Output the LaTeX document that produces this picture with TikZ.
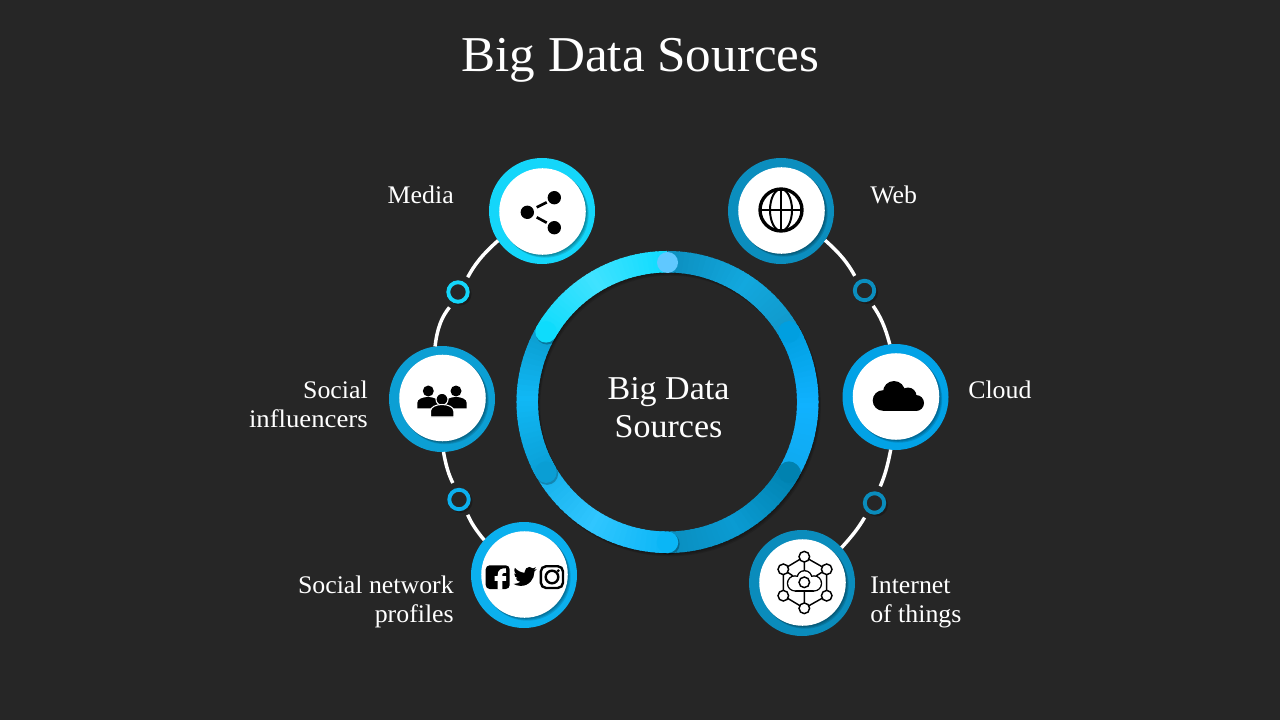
\documentclass[tikz,border=0pt]{standalone}
\usepackage{fontspec}
\setmainfont[FakeStretch=1.02]{Liberation Serif}
\newfontfamily\widerm[FakeStretch=1.055]{Liberation Serif}
\definecolor{bg}{HTML}{262626}
\definecolor{cMedia}{HTML}{14D6FA}
\definecolor{cWeb}{HTML}{0B8EBE}
\definecolor{cCloud}{HTML}{02A2E6}
\definecolor{cInfl}{HTML}{0C9FD4}
\definecolor{cNet}{HTML}{0BB0EE}
\definecolor{cIot}{HTML}{0A8CBC}
\definecolor{aA}{HTML}{0FDCFF}\definecolor{aB}{HTML}{40E2FF}\definecolor{aC}{HTML}{0EDCFC}
\definecolor{bA}{HTML}{0A98C8}\definecolor{bB}{HTML}{10B8F5}\definecolor{bC}{HTML}{0A9ED4}
\definecolor{dA}{HTML}{12AEE8}\definecolor{dB}{HTML}{30C6FF}\definecolor{dC}{HTML}{0AB6F6}
\definecolor{eA}{HTML}{0A8CBC}\definecolor{eB}{HTML}{0A9BD2}\definecolor{eC}{HTML}{0082B0}
\definecolor{fA}{HTML}{0FA8EC}\definecolor{fB}{HTML}{10B2FF}\definecolor{fC}{HTML}{009FE0}
\definecolor{gA}{HTML}{0C8FBF}\definecolor{gB}{HTML}{12A8DE}\definecolor{gC}{HTML}{1095C6}
\definecolor{dotc}{HTML}{60C8FF}
\tikzset{
  hub/.style={circle,minimum size=79.5pt,inner sep=0pt,outer sep=0pt},
  disc/.style={circle,fill=white,minimum size=64.9pt,inner sep=0pt,outer sep=0pt},
  knot/.style={circle,minimum size=14.6pt,inner sep=0pt,fill=bg,line width=2.9pt},
  wire/.style={white,line width=2.6pt},
  lab/.style={text=white,font=\fontsize{19}{21.75}\selectfont,inner sep=0pt},
  iotl/.style={black,line width=1.1pt},
  iotn/.style={draw=black,fill=white,line width=1.1pt},
}
\newcommand\ringarc[6]{%
  \ifnum#6=1
    \fill[black,opacity=.25] ({668.5+140.3*cos(#2)},{403.5+140.3*sin(#2)}) circle[radius=11.2];
  \fi
  \foreach \i in {0,...,29}{%
    \pgfmathsetmacro\aa{#1+(#2-#1)*\i/30}%
    \pgfmathsetmacro\ab{#1+(#2-#1)*(\i+1.3)/30}%
    \ifnum\i<15
      \pgfmathsetmacro\pc{min(100,\i/15*100)}\colorlet{cur}{#4!\pc!#3}%
    \else
      \pgfmathsetmacro\pc{min(100,(\i-15)/15*100)}\colorlet{cur}{#5!\pc!#4}%
    \fi
    \draw[cur,line width=16.1pt] ({667.5+140.3*cos(\aa)},{402+140.3*sin(\aa)}) -- ({667.5+140.3*cos(\ab)},{402+140.3*sin(\ab)});
  }%
  \ifnum#6=1
    \fill[#5] ({667.5+140.3*cos(#2)},{402+140.3*sin(#2)}) circle[radius=10.75];
  \fi
}
\newcommand\softshadow[3]{%
  \foreach \d in {1,2,3}{\fill[black,opacity=.13] ({#1+\d*.9},{#2+\d*.9}) circle[radius=#3];}%
}
\begin{document}
\begin{tikzpicture}[x=.75pt,y=-.75pt]
\useasboundingbox (0,0) rectangle (1280,720);
\fill[bg] (0,0) rectangle (1280,720);
% outer hubs
\node[hub,fill=cMedia] (media) at (542,211) {};
\node[hub,fill=cWeb] (web) at (781,211) {};
\node[hub,fill=cCloud] (cloud) at (895.5,397) {};
\node[hub,fill=cInfl] (infl) at (442,399) {};
\node[hub,fill=cNet] (net) at (524,575) {};
\node[hub,fill=cIot] (iot) at (802,583) {};
\softshadow{542.5}{211.5}{43.5}
\softshadow{781.5}{210.5}{43.5}
\softshadow{896}{396.5}{43.5}
\softshadow{442.5}{398}{43.5}
\softshadow{524.5}{574.5}{43.5}
\softshadow{802.5}{582.5}{43.5}
\node[disc] (mediad) at (542.5,211.5) {};
\node[disc] (webd) at (781.5,210.5) {};
\node[disc] (cloudd) at (896,396.5) {};
\node[disc] (infld) at (442.5,398) {};
\node[disc] (netd) at (524.5,574.5) {};
\node[disc] (iotd) at (802.5,582.5) {};
% small rings
\foreach \x/\y in {458/292,864.5/290.5,459/499.5,874.5/503}{\fill[black,opacity=.25] (\x+2,\y+2) circle[radius=11.5];}
\node[knot,draw=cMedia] (k1) at (458,292) {};
\node[knot,draw=cWeb] (k2) at (864.5,290.5) {};
\node[knot,draw=cNet] (k3) at (459,499.5) {};
\node[knot,draw=cIot] (k4) at (874.5,503) {};
% connectors
\draw[wire,shorten >=4.5pt] (media) to[bend right=10] (k1);
\draw[wire,shorten <=4.5pt] (k1) to[bend right=16] (infl);
\draw[wire,shorten >=4.5pt] (infl) to[bend right=8] (k3);
\draw[wire,shorten <=4.5pt] (k3) to[bend right=8] (net);
\draw[wire,shorten >=4.5pt] (web) to[bend left=10] (k2);
\draw[wire,shorten <=4.5pt] (k2) to[bend left=10] (cloud);
\draw[wire,shorten >=4.5pt] (cloud) to[bend left=6] (k4);
\draw[wire,shorten <=4.5pt] (k4) to[bend left=6] (iot);
% central ring
\foreach \d in {1,2,3}{\draw[black,opacity=.12,line width=16.1pt] (667.5+\d*.8,402+\d*1.1) circle[radius=140.3];}
\ringarc{270}{334}{gA}{gB}{gC}{0}
\ringarc{395}{330}{fA}{fB}{fC}{1}
\ringarc{95}{30}{eA}{eB}{eC}{1}
\ringarc{155}{90}{dA}{dB}{dC}{1}
\ringarc{215}{150}{bA}{bB}{bC}{1}
\ringarc{270}{210}{aA}{aB}{aC}{1}
\fill[dotc] (667.5,262.5) circle[radius=10.5];
% texts
\node[text=white,font=\fontsize{37.6}{42}\selectfont,inner sep=0pt,anchor=base] (title) at (640.5,72) {Big Data Sources};
\node[lab,anchor=base east] (tmedia) at (454,203.5) {Media};
\node[lab,anchor=base west] (tweb) at (870,203.5) {Web};
\node[lab,anchor=base west] (tcloud) at (968,398) {Cloud};
\node[lab,anchor=base east] (tinfl) at (368,398) {Social};
\node[lab,anchor=base east] (tinflb) at (368,427) {\widerm influencers};
\node[lab,anchor=base east] (tnet) at (454,593) {Social network};
\node[lab,anchor=base east] (tnetb) at (454,622) {profiles};
\node[lab,anchor=base west] (tiot) at (870,593) {Internet};
\node[lab,anchor=base west] (tiotb) at (870,622) {of things};
\node[text=white,font=\fontsize{25}{28.5}\selectfont,inner sep=0pt,anchor=base] (cen) at (668.5,399) {Big Data};
\node[text=white,font=\fontsize{25}{28.5}\selectfont,inner sep=0pt,anchor=base] (cenb) at (668.5,437) {Sources};
% share icon
\fill[black] (527.3,212.3) circle[radius=6.7];
\fill[black] (554.3,197.7) circle[radius=6.7];
\fill[black] (554.3,227.7) circle[radius=6.7];
\draw[black,line width=2pt] (536.7,207.3) -- (546.7,202.3) (536.7,217.3) -- (546.7,222.7);
% globe icon
\draw[black,line width=2.5pt] (781,210) circle[radius=21];
\draw[black,line width=1.5pt] (781,210) ellipse[x radius=11,y radius=21];
\draw[black,line width=1.5pt] (760,210) -- (802,210) (781,189) -- (781,231);
% cloud icon
\fill[black] (883,400.5) circle[radius=10.3];
\fill[black] (894,392) circle[radius=11];
\fill[black] (908,396) circle[radius=8.5];
\fill[black] (916,403) circle[radius=8];
\fill[black] (883,399) rectangle (916,411);
% people icon
\fill[black] (428.3,391) circle[radius=5.5];
\fill[black] (456,391) circle[radius=5.5];
\fill[black] (417.3,408.3) -- (417.3,403) .. controls (417.3,399) and (423,397) .. (428,397) .. controls (433,397) and (438.5,399) .. (438.5,403) -- (438.5,408.3) -- cycle;
\fill[black] (445.7,408.3) -- (445.7,403) .. controls (445.7,399) and (451,397) .. (456,397) .. controls (461,397) and (466.7,399) .. (466.7,403) -- (466.7,408.3) -- cycle;
\draw[white,fill=black,line width=.8pt] (442,399.3) circle[radius=6];
\draw[white,fill=black,line width=.8pt] (430.5,417) -- (430.5,411) .. controls (430.5,407) and (436,404.5) .. (442,404.5) .. controls (448,404.5) and (453.8,407) .. (453.8,411) -- (453.8,417) -- cycle;
% social icons
\fill[black,rounded corners=3pt] (485.7,565.3) rectangle (509.7,589);
\draw[white,line width=3.4pt] (500,589.5) -- (500,575) .. controls (500,571.5) and (502,570.5) .. (506,570.5) (494.5,578.5) -- (506,578.5);
\begin{scope}[shift={(513.3,564.7)},x=.731pt,y=-.731pt]
\fill[black] (23.95,4.57) .. controls (23.1,4.95) and (22.1,5.2) .. (21.13,5.35)
 .. controls (22.15,4.75) and (22.92,3.78) .. (23.29,2.62)
 .. controls (22.34,3.18) and (21.29,3.58) .. (20.17,3.81)
 .. controls (18.9,2.8) and (17.8,2.28) .. (16.6,2.28)
 .. controls (13.9,2.28) and (11.68,4.5) .. (11.68,7.2)
 .. controls (11.68,7.6) and (11.72,7.95) .. (11.78,8.29)
 .. controls (7.69,8.095) and (4.067,6.13) .. (1.64,3.162)
 .. controls (1.2,3.9) and (.974,4.75) .. (.974,5.637)
 .. controls (.974,7.347) and (1.844,8.85) .. (3.162,9.733)
 .. controls (2.36,9.7) and (1.6,9.48) .. (.934,9.117)
 -- (.934,9.177)
 .. controls (.934,11.56) and (2.63,13.55) .. (4.88,14)
 .. controls (4.17,14.2) and (3.4,14.23) .. (2.668,14.09)
 .. controls (3.3,16.06) and (5.12,17.46) .. (7.27,17.5)
 .. controls (5.58,18.83) and (3.46,19.61) .. (1.17,19.61)
 .. controls (.78,19.61) and (.39,19.59) .. (0,19.54)
 .. controls (2.18,20.94) and (4.77,21.75) .. (7.557,21.75)
 .. controls (16.61,21.75) and (21.555,14.25) .. (21.555,7.765)
 .. controls (21.555,7.555) and (21.555,7.345) .. (21.54,7.135)
 .. controls (22.5,6.44) and (23.33,5.57) .. (24,4.59) -- cycle;
\end{scope}
\draw[black,line width=1.8pt,rounded corners=4pt] (540.8,566.2) rectangle (563,588);
\draw[black,line width=1.8pt] (552,577) circle[radius=6.3];
\fill[black] (558.2,570.8) circle[radius=1.6];
% IoT icon
\draw[iotl] (804.3,556.7) -- (783.3,569.3) -- (783.3,595.7) -- (804.3,608.3) -- (826.7,595.7) -- (826.7,569.3) -- cycle;
\draw[iotl] (804.3,556.7) -- (804.3,572) (804.3,590) -- (804.3,608.3) (783.3,569.3) -- (793,576) (826.7,569.3) -- (816,576);
\fill[black] (795,583.4) circle[radius=8.2];
\fill[black] (804.5,578) circle[radius=8];
\fill[black] (814,583.4) circle[radius=8.2];
\fill[black] (795,585) rectangle (814,591.6);
\fill[white] (795,583.4) circle[radius=6.8];
\fill[white] (804.5,578) circle[radius=6.6];
\fill[white] (814,583.4) circle[radius=6.8];
\fill[white] (795,582) rectangle (814,590.2);
\draw[iotn] (804.3,582.3) circle[radius=5.3];
\foreach \x/\y in {804.3/556.7,783.3/569.3,826.7/569.3,783.3/595.7,826.7/595.7,804.3/608.3}{\draw[iotn] (\x,\y) circle[radius=5.3];}
\end{tikzpicture}
\end{document}
